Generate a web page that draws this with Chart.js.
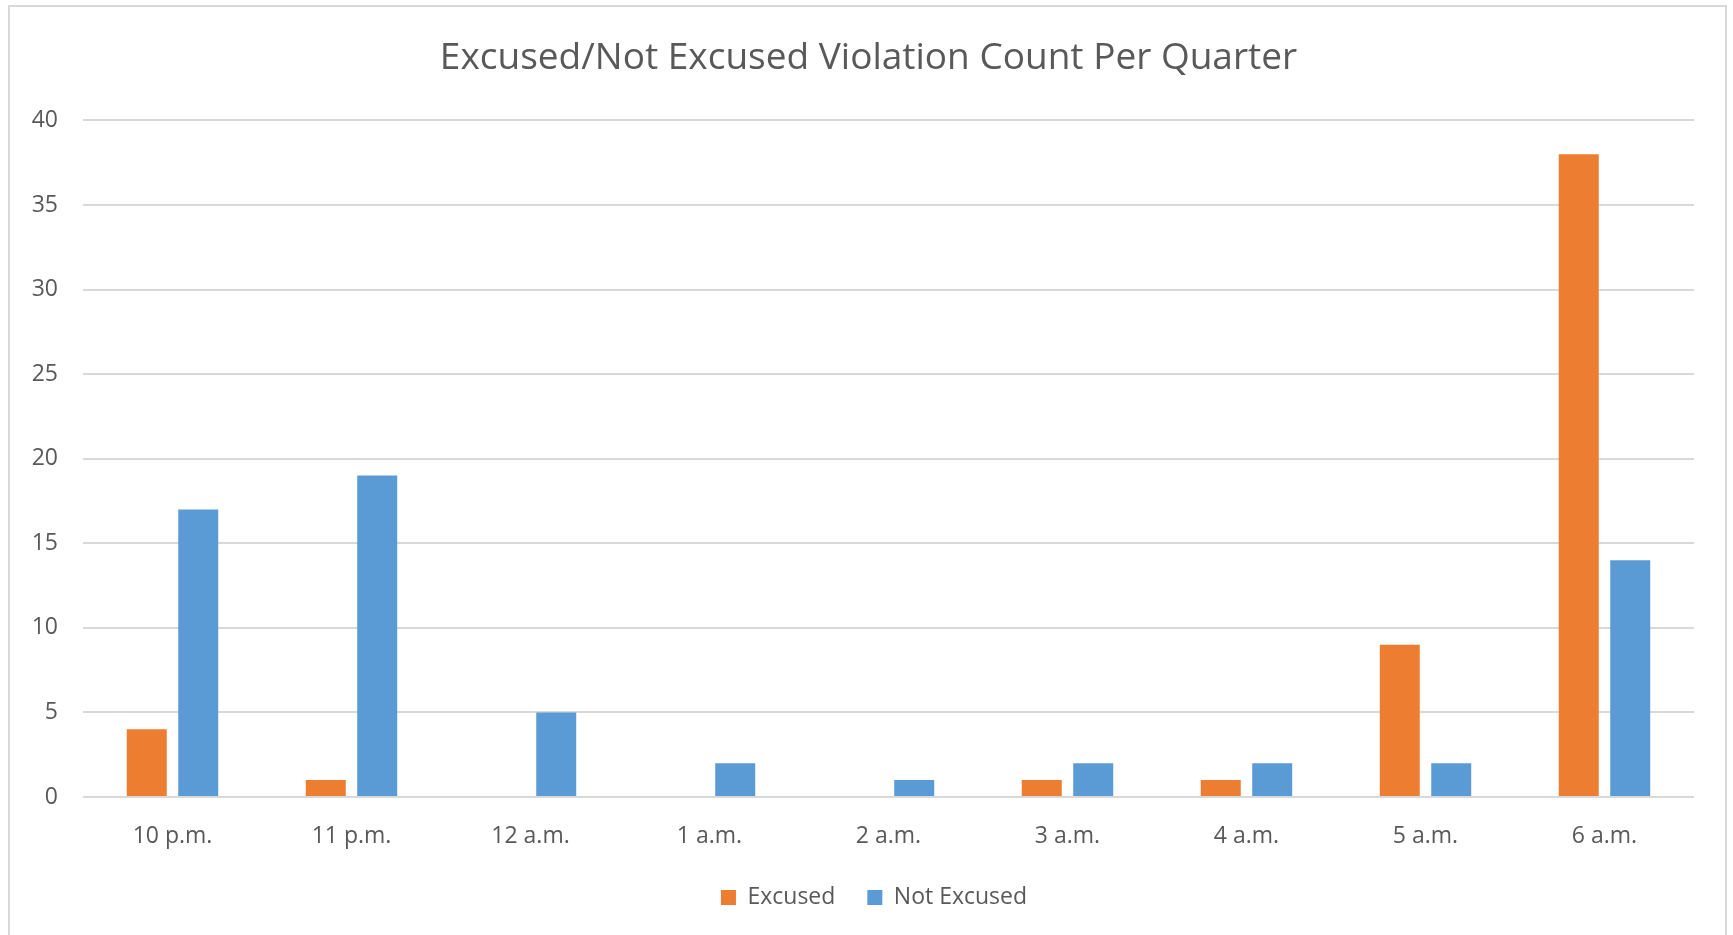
<!DOCTYPE html>
<html>
<head>
<meta charset="utf-8">
<script src="https://cdn.jsdelivr.net/npm/chart.js@4"></script>
<style>
  html, body { margin: 0; padding: 0; background: #ffffff; }
  #wrap { width: 1733px; height: 935px; position: relative; }
</style>
</head>
<body>
<div id="wrap"><canvas id="c" width="1733" height="935"></canvas></div>
<script>
const categories = ['10 p.m.', '11 p.m.', '12 a.m.', '1 a.m.', '2 a.m.', '3 a.m.', '4 a.m.', '5 a.m.', '6 a.m.'];
const excused = [4, 1, 0, 0, 0, 1, 1, 9, 38];
const notExcused = [17, 19, 5, 2, 1, 2, 2, 2, 14];
const yTicks = [0, 5, 10, 15, 20, 25, 30, 35, 40];
const titleText = 'Excused/Not Excused Violation Count Per Quarter';

const FONT = '"Open Sans", "Liberation Sans", sans-serif';
const TEXT = '#595959';

const frame = {
  id: 'frame',
  afterLayout(chart) {
    // Excel centres title and legend a little right of the full chart width
    if (chart.titleBlock) { chart.titleBlock.left += 34; }
    if (chart.legend) { chart.legend.left += 45; }
  },
  beforeDraw(chart) {
    const ctx = chart.ctx;
    ctx.save();
    ctx.fillStyle = '#ffffff';
    ctx.fillRect(0, 0, chart.width, chart.height);
    ctx.strokeStyle = '#D9D9D9';
    ctx.lineWidth = 2;
    ctx.strokeRect(9, 6, 1717, 940);
    ctx.restore();
  }
};

new Chart(document.getElementById('c'), {
  type: 'bar',
  data: {
    labels: categories,
    datasets: [
      { label: 'Excused', data: excused, backgroundColor: '#ED7D31', borderWidth: 0,
        categoryPercentage: 0.575, barPercentage: 0.777 },
      { label: 'Not Excused', data: notExcused, backgroundColor: '#5B9BD5', borderWidth: 0,
        categoryPercentage: 0.575, barPercentage: 0.777 }
    ]
  },
  options: {
    responsive: false,
    animation: false,
    layout: { padding: { left: 9, right: 39, top: 0, bottom: 16 } },
    plugins: {
      title: {
        display: true,
        text: titleText,
        color: TEXT,
        font: { family: FONT, size: 37, weight: 'normal', lineHeight: 1.2 },
        padding: { top: 36, bottom: 40 }
      },
      legend: {
        position: 'bottom',
        labels: {
          color: TEXT,
          font: { family: FONT, size: 23 },
          boxWidth: 15,
          boxHeight: 15,
          padding: 32
        }
      },
      tooltip: { enabled: false }
    },
    scales: {
      x: {
        grid: { display: false, drawTicks: false },
        border: { display: false },
        ticks: { color: TEXT, font: { family: FONT, size: 23 }, padding: 26, maxRotation: 0 },
        afterFit(scale) { scale.height = 57; }
      },
      y: {
        min: 0, max: 40,
        afterBuildTicks(scale) { scale.ticks = yTicks.map(v => ({ value: v })); },
        grid: { color: '#D9D9D9', lineWidth: 2, drawTicks: false },
        border: { display: false },
        ticks: { color: TEXT, font: { family: FONT, size: 23 }, padding: 25 },
        afterFit(scale) { scale.width = 74; }
      }
    }
  },
  plugins: [frame]
});
</script>
</body>
</html>
